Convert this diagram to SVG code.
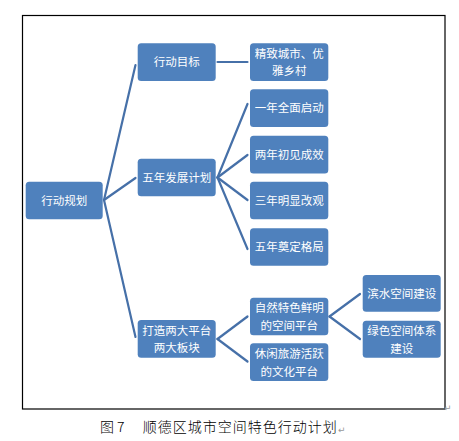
<svg xmlns="http://www.w3.org/2000/svg" width="459" height="441" viewBox="0 0 459 441">
<style>
.box{fill:#4f81bd;}
.t{font-family:"Noto Sans CJK SC","Liberation Sans",sans-serif;font-size:11.5px;fill:#ffffff;text-anchor:middle;}
.c{fill:none;stroke:#4670a8;stroke-width:2.2;stroke-linecap:round;}
.cap{font-family:"Noto Sans CJK SC","Liberation Sans",sans-serif;font-size:14px;font-weight:300;fill:#000000;}
.pm{font-family:"DejaVu Sans",sans-serif;font-size:9px;fill:#999999;}
</style>
<rect x="0" y="0" width="459" height="441" fill="#ffffff"/>
<rect x="22.5" y="15.5" width="422.5" height="393.5" fill="#ffffff" stroke="#000000" stroke-width="1.2"/>
<g id="connectors">
<path class="c" d="M104,200 L135.5,65"/>
<path class="c" d="M104,200 L135.5,178"/>
<path class="c" d="M104,200 L135.5,337"/>
<path class="c" d="M217.5,62 L247.5,62"/>
<path class="c" d="M217.5,177.5 L247.5,104"/>
<path class="c" d="M217.5,177.5 L247.5,155"/>
<path class="c" d="M217.5,177.5 L247.5,200"/>
<path class="c" d="M217.5,177.5 L247.5,249"/>
<path class="c" d="M217.5,339 L247.5,316.5"/>
<path class="c" d="M217.5,339 L247.5,361.5"/>
<path class="c" d="M329.5,316.5 L360,294"/>
<path class="c" d="M329.5,316.5 L360,339"/>
</g>
<g id="n-root"><rect class="box" x="25.7" y="181.7" width="77" height="37.5" rx="3.5"/><text class="t" x="64.2" y="204.5">行动规划</text></g>
<g id="n-goal"><rect class="box" x="137.7" y="43.3" width="78" height="37.7" rx="3.5"/><text class="t" x="176.7" y="66">行动目标</text></g>
<g id="n-plan"><rect class="box" x="137.7" y="158.7" width="78" height="37.5" rx="3.5"/><text class="t" x="176.7" y="181.5">五年发展计划</text></g>
<g id="n-platform"><rect class="box" x="137.7" y="320" width="78" height="37.7" rx="3.5"/><text class="t" x="176.7" y="334.5">打造两大平台</text><text class="t" x="176.7" y="352">两大板块</text></g>
<g id="n-city"><rect class="box" x="250" y="43.3" width="78.3" height="37.7" rx="3.5"/><text class="t" x="289.2" y="57.5">精致城市、优</text><text class="t" x="289.2" y="75.2">雅乡村</text></g>
<g id="n-y1"><rect class="box" x="250" y="89.3" width="78.3" height="37.7" rx="3.5"/><text class="t" x="289.2" y="112">一年全面启动</text></g>
<g id="n-y2"><rect class="box" x="250" y="135.7" width="78.3" height="37.7" rx="3.5"/><text class="t" x="289.2" y="158.5">两年初见成效</text></g>
<g id="n-y3"><rect class="box" x="250" y="181.7" width="78.3" height="37.5" rx="3.5"/><text class="t" x="289.2" y="204.5">三年明显改观</text></g>
<g id="n-y5"><rect class="box" x="250" y="228.3" width="78.3" height="37.5" rx="3.5"/><text class="t" x="289.2" y="251">五年奠定格局</text></g>
<g id="n-nature"><rect class="box" x="250" y="297.7" width="78.3" height="37.5" rx="3.5"/><text class="t" x="289.2" y="312">自然特色鲜明</text><text class="t" x="289.2" y="329.5">的空间平台</text></g>
<g id="n-leisure"><rect class="box" x="250" y="343.3" width="78.3" height="37.7" rx="3.5"/><text class="t" x="289.2" y="357.8">休闲旅游活跃</text><text class="t" x="289.2" y="375.5">的文化平台</text></g>
<g id="n-water"><rect class="box" x="362.7" y="275" width="78" height="36.7" rx="3.5"/><text class="t" x="401.7" y="297.5">滨水空间建设</text></g>
<g id="n-green"><rect class="box" x="362.7" y="320.7" width="78" height="37" rx="3.5"/><text class="t" x="401.7" y="335">绿色空间体系</text><text class="t" x="401.7" y="352.5">建设</text></g>
<text class="pm" x="444" y="411">↵</text>
<text class="cap" x="100" y="432">图</text>
<text class="cap" x="117" y="432">7</text>
<text class="cap" x="142.7" y="432" letter-spacing="1">顺德区城市空间特色行动计划</text>
<text class="pm" x="338" y="433">↵</text>
</svg>
